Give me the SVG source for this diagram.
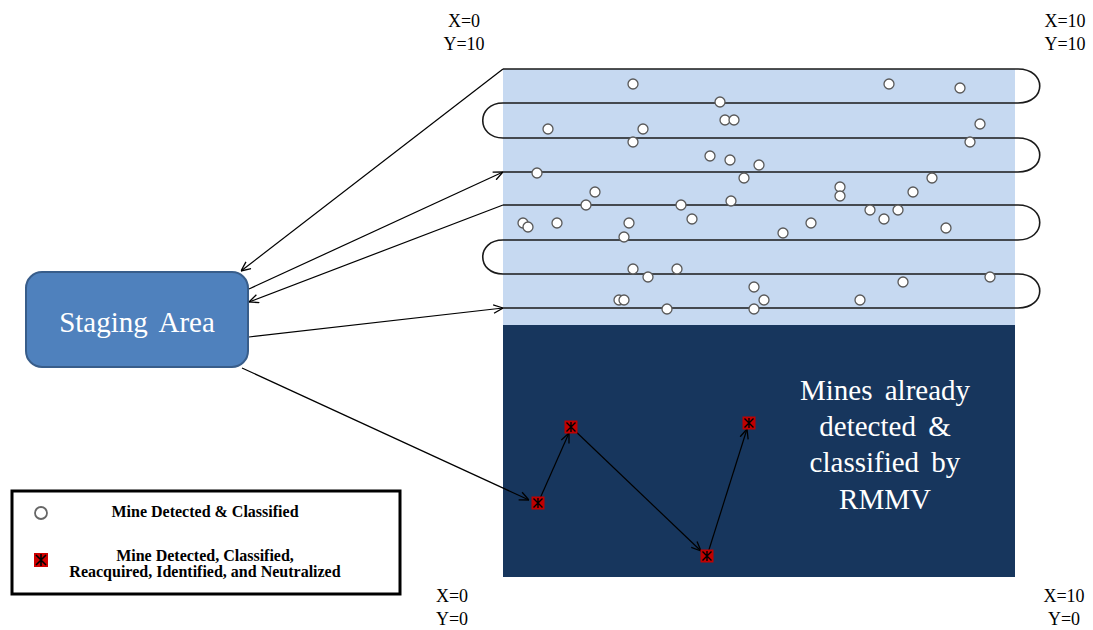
<svg xmlns="http://www.w3.org/2000/svg" width="1093" height="630" viewBox="0 0 1093 630" font-family="'Liberation Serif', 'DejaVu Serif', serif">
<defs>
<style>
.mine{fill:#ffffff;stroke:#595959;stroke-width:1.3}
.conn{fill:none;stroke:#000000;stroke-width:1.2}
.path{fill:none;stroke:#1a1a1a;stroke-width:1.6}
text{font-family:'Liberation Serif','DejaVu Serif',serif}
.lbl{font-size:18px;fill:#000;text-anchor:middle}
.leg{font-size:16px;font-weight:bold;fill:#000;text-anchor:middle}
.big{font-size:29px;fill:#ffffff;text-anchor:middle;word-spacing:5px}
</style>
<marker id="arr" viewBox="0 0 10 10" refX="10" refY="5" markerWidth="10" markerHeight="10" markerUnits="userSpaceOnUse" orient="auto">
<path d="M0.5,0.8 L10,5 L0.5,9.2" fill="none" stroke="#000" stroke-width="1.3"/>
</marker>
<g id="redmark">
<rect x="-6.5" y="-6.5" width="13" height="13" fill="#c00000"/>
<path d="M-4.5,-4.5 L4.5,4.5 M4.5,-4.5 L-4.5,4.5 M0,-5 L0,5" stroke="#000" stroke-width="1.4"/>
</g>
</defs>
<rect width="1093" height="630" fill="#ffffff"/>

<g id="field">
<rect x="503" y="69" width="512" height="256" fill="#c6d9f1"/>
<rect x="503" y="325" width="512" height="252" fill="#17365d"/>
</g>

<g id="lawnmower">
<path class="path" d="M503,69 H1018 C1047,69 1047,103 1018,103 H503 C476,103 476,138 503,138 H1018 C1047,138 1047,172 1018,172 H503"/>
<path class="path" d="M503,205 H1018 C1047,205 1047,240 1018,240 H503 C476,240 476,274 503,274 H1018 C1047,274 1047,308 1018,308 H503"/>
</g>

<g id="mines">
<circle class="mine" cx="633" cy="84" r="5"/>
<circle class="mine" cx="889" cy="84" r="5"/>
<circle class="mine" cx="960" cy="88" r="5"/>
<circle class="mine" cx="720" cy="102" r="5"/>
<circle class="mine" cx="725" cy="120" r="5"/>
<circle class="mine" cx="734" cy="120" r="5"/>
<circle class="mine" cx="548" cy="129" r="5"/>
<circle class="mine" cx="643" cy="129" r="5"/>
<circle class="mine" cx="980" cy="124" r="5"/>
<circle class="mine" cx="633" cy="142" r="5"/>
<circle class="mine" cx="970" cy="142" r="5"/>
<circle class="mine" cx="710" cy="156" r="5"/>
<circle class="mine" cx="730" cy="160" r="5"/>
<circle class="mine" cx="759" cy="165" r="5"/>
<circle class="mine" cx="537" cy="173" r="5"/>
<circle class="mine" cx="744" cy="178" r="5"/>
<circle class="mine" cx="932" cy="178" r="5"/>
<circle class="mine" cx="840" cy="187" r="5"/>
<circle class="mine" cx="840" cy="196" r="5"/>
<circle class="mine" cx="595" cy="192" r="5"/>
<circle class="mine" cx="913" cy="192" r="5"/>
<circle class="mine" cx="586" cy="205" r="5"/>
<circle class="mine" cx="681" cy="205" r="5"/>
<circle class="mine" cx="731" cy="201" r="5"/>
<circle class="mine" cx="870" cy="210" r="5"/>
<circle class="mine" cx="898" cy="210" r="5"/>
<circle class="mine" cx="692" cy="219" r="5"/>
<circle class="mine" cx="884" cy="219" r="5"/>
<circle class="mine" cx="523" cy="223" r="5"/>
<circle class="mine" cx="528" cy="227" r="5"/>
<circle class="mine" cx="557" cy="223" r="5"/>
<circle class="mine" cx="629" cy="223" r="5"/>
<circle class="mine" cx="811" cy="223" r="5"/>
<circle class="mine" cx="946" cy="228" r="5"/>
<circle class="mine" cx="783" cy="233" r="5"/>
<circle class="mine" cx="624" cy="237" r="5"/>
<circle class="mine" cx="633" cy="269" r="5"/>
<circle class="mine" cx="677" cy="269" r="5"/>
<circle class="mine" cx="648" cy="277" r="5"/>
<circle class="mine" cx="990" cy="277" r="5"/>
<circle class="mine" cx="903" cy="282" r="5"/>
<circle class="mine" cx="754" cy="287" r="5"/>
<circle class="mine" cx="619" cy="300" r="5"/>
<circle class="mine" cx="624" cy="300" r="5"/>
<circle class="mine" cx="764" cy="300" r="5"/>
<circle class="mine" cx="860" cy="300" r="5"/>
<circle class="mine" cx="667" cy="309" r="5"/>
<circle class="mine" cx="754" cy="309" r="5"/>
</g>

<g id="staging">
<rect x="26" y="272" width="222" height="95" rx="16" ry="16" fill="#4f81bd" stroke="#385d8a" stroke-width="2"/>
<text class="big" x="137" y="332">Staging Area</text>
</g>

<g id="connectors">
<line class="conn" x1="503" y1="69" x2="241" y2="271" marker-end="url(#arr)"/>
<line class="conn" x1="249" y1="289" x2="503" y2="172" marker-end="url(#arr)"/>
<line class="conn" x1="503" y1="205" x2="249" y2="302" marker-end="url(#arr)"/>
<line class="conn" x1="249" y1="337" x2="503" y2="308" marker-end="url(#arr)"/>
<line class="conn" x1="242" y1="368" x2="529" y2="500" marker-end="url(#arr)"/>
<line class="conn" x1="538" y1="503" x2="569" y2="433" marker-end="url(#arr)"/>
<line class="conn" x1="571" y1="427" x2="701" y2="551" marker-end="url(#arr)"/>
<line class="conn" x1="707" y1="556" x2="747" y2="429" marker-end="url(#arr)"/>
</g>

<g id="neutralized">
<use href="#redmark" x="538" y="503"/>
<use href="#redmark" x="571" y="427"/>
<use href="#redmark" x="707" y="556"/>
<use href="#redmark" x="749" y="423"/>
</g>

<g id="rmmv-note">
<text class="big" x="885" y="400">Mines already</text>
<text class="big" x="885" y="436">detected &amp;</text>
<text class="big" x="885" y="472">classified by</text>
<text class="big" x="885" y="509">RMMV</text>
</g>

<g id="corners">
<text class="lbl" x="464" y="27">X=0</text>
<text class="lbl" x="464" y="50">Y=10</text>
<text class="lbl" x="1065" y="27">X=10</text>
<text class="lbl" x="1065" y="50">Y=10</text>
<text class="lbl" x="452" y="602">X=0</text>
<text class="lbl" x="452" y="625">Y=0</text>
<text class="lbl" x="1064" y="602">X=10</text>
<text class="lbl" x="1064" y="625">Y=0</text>
</g>

<g id="legend">
<rect x="12" y="491" width="388" height="103" fill="#ffffff" stroke="#000" stroke-width="3"/>
<circle cx="41" cy="513" r="6" fill="#ffffff" stroke="#666" stroke-width="1.8"/>
<text class="leg" x="205" y="517">Mine Detected &amp; Classified</text>
<rect x="34" y="553" width="14" height="14" fill="#d00000"/>
<path d="M36,555 L46,565 M46,555 L36,565 M41,554 L41,566" stroke="#000" stroke-width="1.6"/>
<text class="leg" x="205" y="561">Mine Detected, Classified,</text>
<text class="leg" x="205" y="577">Reacquired, Identified, and Neutralized</text>
</g>
</svg>
